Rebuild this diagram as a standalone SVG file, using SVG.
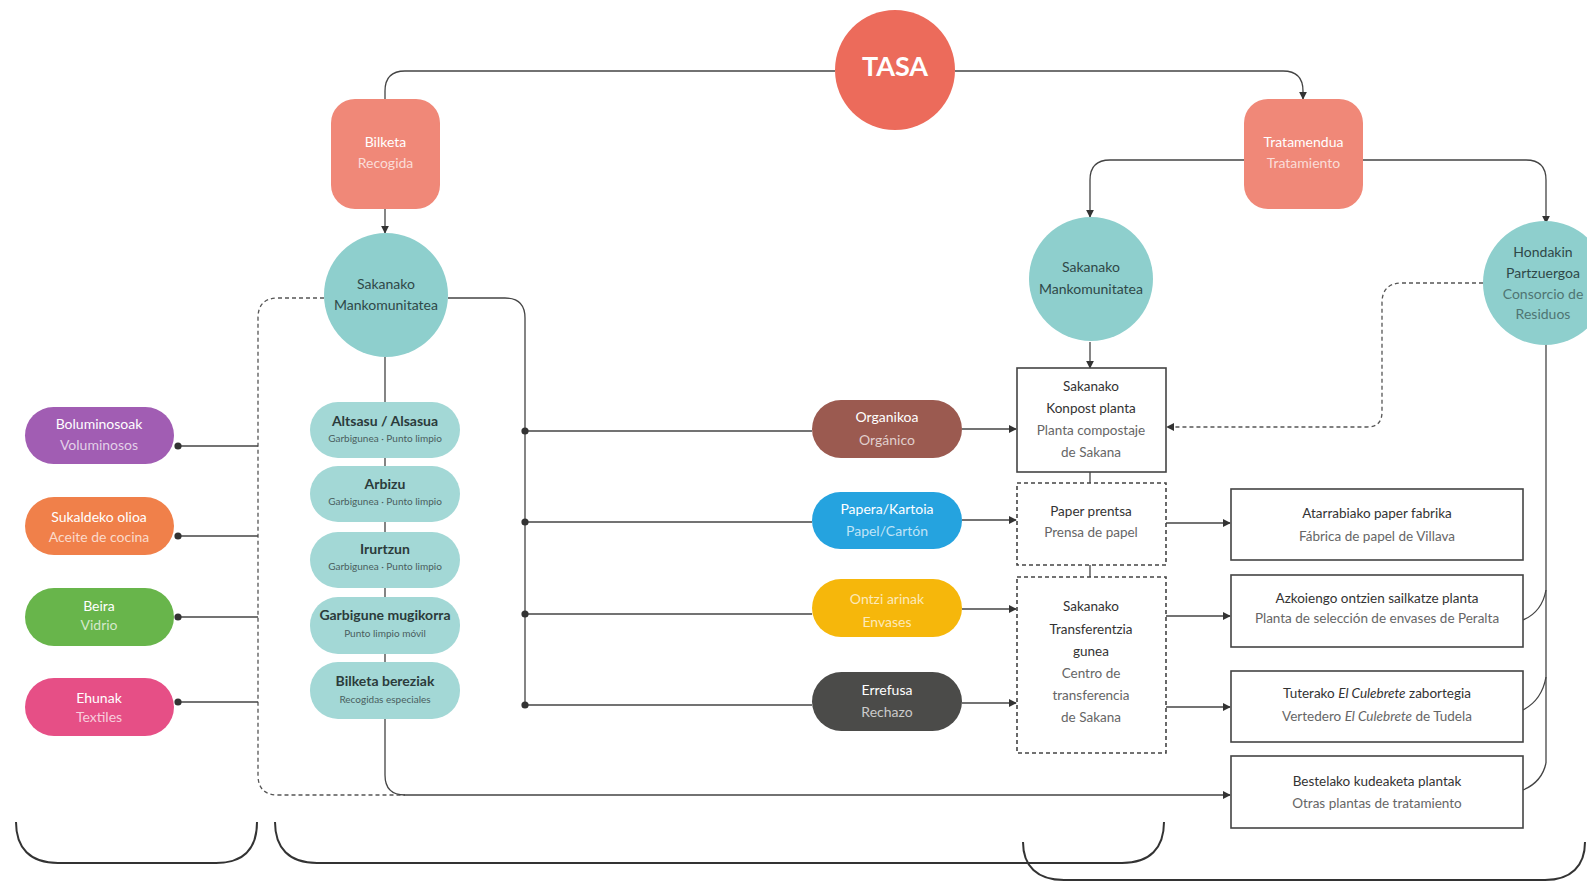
<svg xmlns="http://www.w3.org/2000/svg" width="1587" height="881" viewBox="0 0 1587 881">
<defs>
<marker id="arr" viewBox="0 0 10 10" refX="9" refY="5" markerWidth="8" markerHeight="8" markerUnits="userSpaceOnUse" orient="auto"><path d="M0,0 L10,5 L0,10 z" fill="#333"/></marker>
<marker id="dot" viewBox="0 0 10 10" refX="5" refY="5" markerWidth="8" markerHeight="8" markerUnits="userSpaceOnUse"><circle cx="5" cy="5" r="4.5" fill="#333"/></marker>
<style>
text{font-family:Lato,"Liberation Sans",sans-serif;text-anchor:middle;dominant-baseline:middle}
.ln{fill:none;stroke:#444;stroke-width:1.3}
.ds{fill:none;stroke:#555;stroke-width:1.3;stroke-dasharray:4 3}
.br{fill:none;stroke:#333;stroke-width:2}
.w{fill:#fff;font-size:14px}
.wl{fill:#fff;fill-opacity:.72;font-size:14px}
.dk{fill:#2e4848;font-size:14px}
.dkl{fill:#4f7573;font-size:14px}
.bx{fill:#fff;stroke:#444;stroke-width:1.6}
.dbx{fill:#fff;stroke:#444;stroke-width:1.6;stroke-dasharray:4 3}
.t1{fill:#333;font-size:13.5px}
.t2{fill:#666;font-size:13.5px}
.tp{fill:#a3d8d6}
.pb{fill:#2b3b3b;font-size:14px;font-weight:bold}
.ps{fill:#4a5e5e;font-size:10px}
</style>
</defs>
<rect width="1587" height="881" fill="#fff"/>

<g id="connectors">
<path class="ln" d="M385,99 V91 Q385,71 405,71 H835"/>
<path class="ln" d="M955,71 H1283 Q1303,71 1303,91 V99" marker-end="url(#arr)"/>
<path class="ln" d="M385,209 V233" marker-end="url(#arr)"/>
<path class="ln" d="M1244,160 H1110 Q1090,160 1090,180 V217" marker-end="url(#arr)"/>
<path class="ln" d="M1363,160 H1526 Q1546,160 1546,180 V223" marker-end="url(#arr)"/>
<path class="ln" d="M1090,342 V368" marker-end="url(#arr)"/>
<path class="ds" d="M1483,283 H1402 Q1382,283 1382,303 V412 Q1382,427 1367,427 H1167" marker-end="url(#arr)"/>
<path class="ln" d="M1546,343 V763"/>
<path class="ln" d="M1523,620 Q1542,612 1546,590"/>
<path class="ln" d="M1523,710 Q1542,700 1546,677"/>
<path class="ln" d="M1523,790 Q1542,782 1546,763"/>
<path class="ds" d="M324,298 H278 Q258,298 258,318 V775 Q258,795 278,795 H405"/>
<path class="ln" d="M385,357 V775 Q385,795 405,795 H1230" marker-end="url(#arr)"/>
<path class="ln" d="M448,298 H505 Q525,298 525,318 V705"/>
<path class="ln" d="M525,431 H812" marker-start="url(#dot)"/>
<path class="ln" d="M525,522 H812" marker-start="url(#dot)"/>
<path class="ln" d="M525,614 H812" marker-start="url(#dot)"/>
<path class="ln" d="M525,705 H812" marker-start="url(#dot)"/>
<path class="ln" d="M962,429 H1016" marker-end="url(#arr)"/>
<path class="ln" d="M962,520 H1016" marker-end="url(#arr)"/>
<path class="ln" d="M962,609 H1016" marker-end="url(#arr)"/>
<path class="ln" d="M962,703 H1016" marker-end="url(#arr)"/>
<path class="ln" d="M1090,472 V483"/>
<path class="ln" d="M1090,565 V577"/>
<path class="ln" d="M1166,523 H1230" marker-end="url(#arr)"/>
<path class="ln" d="M1166,616 H1230" marker-end="url(#arr)"/>
<path class="ln" d="M1166,707 H1230" marker-end="url(#arr)"/>
<path class="ln" d="M178,446 H258" marker-start="url(#dot)"/>
<path class="ln" d="M178,536 H258" marker-start="url(#dot)"/>
<path class="ln" d="M178,617 H258" marker-start="url(#dot)"/>
<path class="ln" d="M178,702 H258" marker-start="url(#dot)"/>
</g>

<g id="brackets">
<path class="br" d="M16,822 C16,848 30,863 58,863 H216 C244,863 257,848 257,822"/>
<path class="br" d="M275,822 C275,848 289,863 317,863 H1122 C1150,863 1164,848 1164,822"/>
<path class="br" d="M1023,842 C1023,866 1037,880 1064,880 H1545 C1571,880 1585,866 1585,842"/>
</g>

<g id="tasa"><circle cx="895" cy="70" r="60" fill="#ec6b5b"/><text x="895" y="69" fill="#fff" font-size="27" font-weight="bold">TASA</text></g>

<g id="bilketa"><rect x="331" y="99" width="109" height="110" rx="24" fill="#f08878"/><text class="w" x="385.5" y="143">Bilketa</text><text class="wl" x="385.5" y="164">Recogida</text></g>
<g id="tratamendua"><rect x="1244" y="99" width="119" height="110" rx="24" fill="#f08878"/><text class="w" x="1303.5" y="143">Tratamendua</text><text class="wl" x="1303.5" y="164">Tratamiento</text></g>

<g id="sakana-left"><circle cx="386" cy="295" r="62" fill="#8ecfcd"/><text class="dk" x="386" y="285">Sakanako</text><text class="dk" x="386" y="306">Mankomunitatea</text></g>
<g id="sakana-right"><circle cx="1091" cy="279" r="62" fill="#8ecfcd"/><text class="dk" x="1091" y="268">Sakanako</text><text class="dk" x="1091" y="290">Mankomunitatea</text></g>
<g id="hondakin"><circle cx="1545" cy="283" r="62" fill="#8ecfcd"/><text class="dk" x="1543" y="253" font-size="13">Hondakin</text><text class="dk" x="1543" y="274" font-size="13">Partzuergoa</text><text class="dkl" x="1543" y="295" font-size="13">Consorcio de</text><text class="dkl" x="1543" y="315" font-size="13">Residuos</text></g>

<g id="boluminosoak"><rect x="25" y="407" width="149" height="57" rx="28.5" fill="#a15db3"/><text class="w" x="99" y="425">Boluminosoak</text><text class="wl" x="99" y="446">Voluminosos</text></g>
<g id="sukaldeko"><rect x="25" y="497" width="149" height="58" rx="29" fill="#f0804a"/><text class="w" x="99" y="518">Sukaldeko olioa</text><text class="wl" x="99" y="538">Aceite de cocina</text></g>
<g id="beira"><rect x="25" y="588" width="149" height="58" rx="29" fill="#68b54b"/><text class="w" x="99" y="607">Beira</text><text class="wl" x="99" y="626">Vidrio</text></g>
<g id="ehunak"><rect x="25" y="678" width="149" height="58" rx="29" fill="#e64f86"/><text class="w" x="99" y="699">Ehunak</text><text class="wl" x="99" y="718">Textiles</text></g>

<g id="altsasu"><rect class="tp" x="310" y="402" width="150" height="56" rx="28"/><text class="pb" x="385" y="422">Altsasu / Alsasua</text><text class="ps" x="385" y="439">Garbigunea · Punto limpio</text></g>
<g id="arbizu"><rect class="tp" x="310" y="466" width="150" height="56" rx="28"/><text class="pb" x="385" y="485">Arbizu</text><text class="ps" x="385" y="502">Garbigunea · Punto limpio</text></g>
<g id="irurtzun"><rect class="tp" x="310" y="532" width="150" height="56" rx="28"/><text class="pb" x="385" y="550">Irurtzun</text><text class="ps" x="385" y="567">Garbigunea · Punto limpio</text></g>
<g id="mugikorra"><rect class="tp" x="310" y="597" width="150" height="57" rx="28"/><text class="pb" x="385" y="616" font-size="12.5">Garbigune mugikorra</text><text class="ps" x="385" y="634" font-size="11">Punto limpio móvil</text></g>
<g id="bereziak"><rect class="tp" x="310" y="662" width="150" height="57" rx="28"/><text class="pb" x="385" y="682" font-size="12.5">Bilketa bereziak</text><text class="ps" x="385" y="700" font-size="11">Recogidas especiales</text></g>

<g id="organikoa"><rect x="812" y="400" width="150" height="58" rx="29" fill="#9b5a50"/><text class="w" x="887" y="418">Organikoa</text><text class="wl" x="887" y="441">Orgánico</text></g>
<g id="papera"><rect x="812" y="492" width="150" height="57" rx="28.5" fill="#25a3df"/><text class="w" x="887" y="510">Papera/Kartoia</text><text class="wl" x="887" y="532">Papel/Cartón</text></g>
<g id="ontzi"><rect x="812" y="579" width="150" height="58" rx="29" fill="#f6b70b"/><text class="wl" x="887" y="600">Ontzi arinak</text><text class="wl" x="887" y="623">Envases</text></g>
<g id="errefusa"><rect x="812" y="672" width="150" height="59" rx="29.5" fill="#4b4b49"/><text class="w" x="887" y="691">Errefusa</text><text class="wl" x="887" y="713">Rechazo</text></g>

<g id="konpost"><rect class="bx" x="1017" y="368" width="149" height="104"/><text class="t1" x="1091" y="388">Sakanako</text><text class="t1" x="1091" y="410">Konpost planta</text><text class="t2" x="1091" y="432">Planta compostaje</text><text class="t2" x="1091" y="454">de Sakana</text></g>
<g id="paper-prentsa"><rect class="dbx" x="1017" y="483" width="149" height="82"/><text class="t1" x="1091" y="513">Paper prentsa</text><text class="t2" x="1091" y="534">Prensa de papel</text></g>
<g id="transferentzia"><rect class="dbx" x="1017" y="577" width="149" height="176"/><text class="t1" x="1091" y="608">Sakanako</text><text class="t1" x="1091" y="631">Transferentzia</text><text class="t1" x="1091" y="653">gunea</text><text class="t2" x="1091" y="675">Centro de</text><text class="t2" x="1091" y="697">transferencia</text><text class="t2" x="1091" y="719">de Sakana</text></g>

<g id="atarrabia"><rect class="bx" x="1231" y="489" width="292" height="71"/><text class="t1" x="1377" y="515">Atarrabiako paper fabrika</text><text class="t2" x="1377" y="538">Fábrica de papel de Villava</text></g>
<g id="azkoien"><rect class="bx" x="1231" y="575" width="292" height="72"/><text class="t1" x="1377" y="600">Azkoiengo ontzien sailkatze planta</text><text class="t2" x="1377" y="620">Planta de selección de envases de Peralta</text></g>
<g id="tutera"><rect class="bx" x="1231" y="671" width="292" height="71"/><text class="t1" x="1377" y="695">Tuterako <tspan font-style="italic">El Culebrete</tspan> zabortegia</text><text class="t2" x="1377" y="718">Vertedero <tspan font-style="italic">El Culebrete</tspan> de Tudela</text></g>
<g id="bestelako"><rect class="bx" x="1231" y="756" width="292" height="72"/><text class="t1" x="1377" y="783">Bestelako kudeaketa plantak</text><text class="t2" x="1377" y="805">Otras plantas de tratamiento</text></g>
</svg>
